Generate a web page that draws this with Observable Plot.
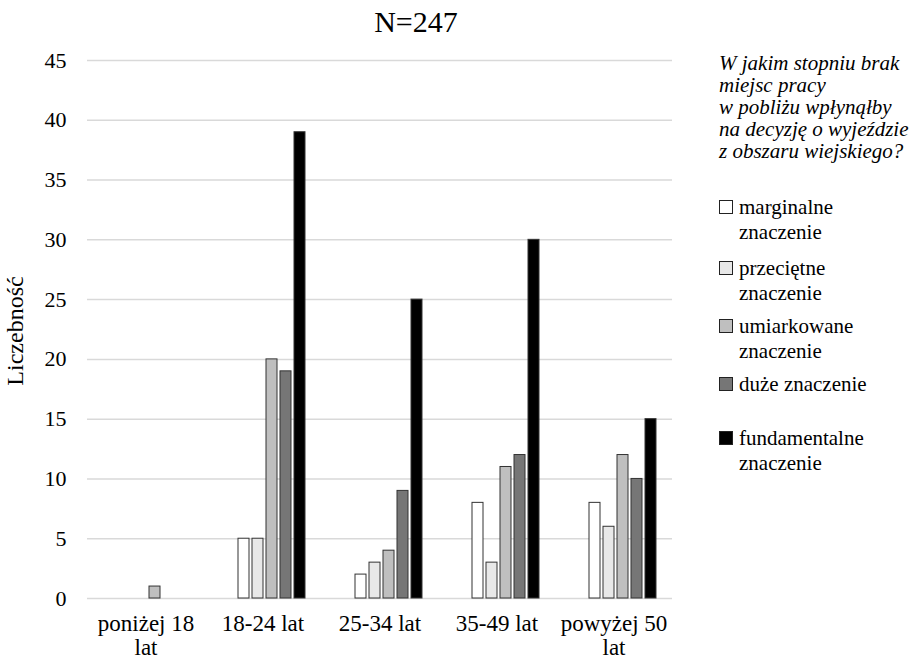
<!DOCTYPE html>
<html>
<head>
<meta charset="utf-8">
<script src="https://cdn.jsdelivr.net/npm/d3@7"></script>
<script src="https://cdn.jsdelivr.net/npm/@observablehq/plot@0.6"></script>
<style>
  body { margin: 0; background: #fff; font-family: "Liberation Serif", "Times New Roman", serif; color: #000; }
  #wrap { position: relative; width: 912px; height: 662px; overflow: hidden; background: #fff; }
  #chart { position: absolute; left: 0; top: 0; }
  #title { position: absolute; left: 0; width: 832px; top: 4px; text-align: center; font-size: 30px; line-height: 36px; }
  #ylabel { position: absolute; left: 15px; top: 331px; transform: translate(-50%, -50%) rotate(-90deg); font-size: 24px; white-space: nowrap; }
  #legendTitle { position: absolute; left: 719px; top: 52px; font-size: 21px; line-height: 22px; font-style: italic; white-space: pre; }
  .item { position: absolute; left: 719px; font-size: 21px; line-height: 25px; white-space: pre; }
  .sw { position: absolute; left: 0; top: 5px; width: 12px; height: 12px; border: 1.5px solid #222; box-sizing: content-box; }
  .lbl { position: absolute; left: 20px; top: 0; }
</style>
</head>
<body>
<div id="wrap">
  <div id="chart"></div>
  <div id="title"></div>
  <div id="ylabel"></div>
  <div id="legendTitle"></div>
  <div id="legend"></div>
</div>
<script>
const titleText = "N=247";
const yLabel = "Liczebność";
const legendTitle = "W jakim stopniu brak\nmiejsc pracy\nw pobliżu wpłynąłby\nna decyzję o wyjeździe\nz obszaru wiejskiego?";
const groups = ["poniżej 18 lat", "18-24 lat", "25-34 lat", "35-49 lat", "powyżej 50 lat"];
const groupLabels = ["poniżej 18\nlat", "18-24 lat", "25-34 lat", "35-49 lat", "powyżej 50\nlat"];
const series = ["marginalne znaczenie", "przeciętne znaczenie", "umiarkowane znaczenie", "duże znaczenie", "fundamentalne znaczenie"];
const legendLabels = ["marginalne\nznaczenie", "przeciętne\nznaczenie", "umiarkowane\nznaczenie", "duże znaczenie", "fundamentalne\nznaczenie"];
const marginalne = [0, 5, 2, 8, 8];
const przecietne = [0, 5, 3, 3, 6];
const umiarkowane = [1, 20, 4, 11, 12];
const duze = [0, 19, 9, 12, 10];
const fundamentalne = [0, 39, 25, 30, 15];
const yTicks = [0, 5, 10, 15, 20, 25, 30, 35, 40, 45];
const colors = ["#ffffff", "#e8e8e8", "#bfbfbf", "#767676", "#000000"];
const legendTops = [195, 256, 314, 372, 426];

const valueSeries = [marginalne, przecietne, umiarkowane, duze, fundamentalne];
const rows = [];
groups.forEach((g, i) => series.forEach((s, j) => rows.push({group: g, series: s, value: valueSeries[j][i]})));

const chart = Plot.plot({
  width: 912,
  height: 662,
  marginTop: 60,
  marginBottom: 64,
  marginLeft: 86,
  marginRight: 239,
  style: {fontFamily: "'Liberation Serif', 'Times New Roman', serif", fontSize: "22px", color: "#000", background: "#fff"},
  fx: {domain: groups, padding: 0, label: null},
  x: {domain: series, padding: 0.22, insetLeft: 30, insetRight: 12, axis: null},
  y: {domain: [0, 45], label: null},
  color: {domain: series, range: colors},
  marks: [
    Plot.ruleY(yTicks, {stroke: "#d9d9d9", strokeWidth: 1.5}),
    Plot.barY(rows.filter(d => d.value > 0), {fx: "group", x: "series", y: "value", fill: "series", stroke: "#333", strokeWidth: 1}),
    Plot.axisY({ticks: yTicks, tickSize: 0, tickPadding: 21, fontSize: 22, label: null}),
    Plot.axisFx({anchor: "bottom", tickSize: 0, tickPadding: 16, fontSize: 23, lineHeight: 1.02, label: null,
      tickFormat: g => groupLabels[groups.indexOf(g)]})
  ]
});
document.getElementById("chart").appendChild(chart);
document.getElementById("title").textContent = titleText;
document.getElementById("ylabel").textContent = yLabel;
document.getElementById("legendTitle").textContent = legendTitle;

const legend = document.getElementById("legend");
series.forEach((s, i) => {
  const item = document.createElement("div");
  item.className = "item";
  item.style.top = legendTops[i] + "px";
  const sw = document.createElement("div");
  sw.className = "sw";
  sw.style.background = colors[i];
  const lbl = document.createElement("div");
  lbl.className = "lbl";
  lbl.textContent = legendLabels[i];
  item.appendChild(sw);
  item.appendChild(lbl);
  legend.appendChild(item);
});
</script>
</body>
</html>
